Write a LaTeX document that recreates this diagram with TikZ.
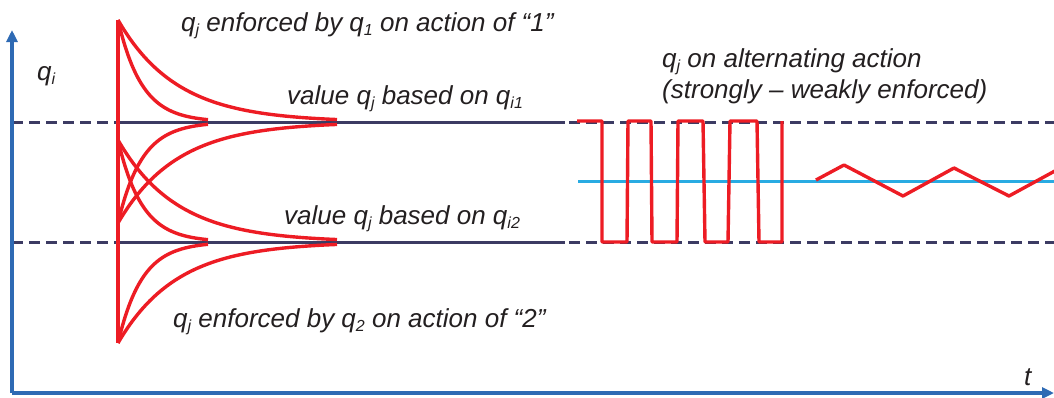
\documentclass[tikz,border=0pt]{standalone}
\usepackage{fontspec}
\setmainfont{Liberation Sans}
\usetikzlibrary{arrows.meta}
\definecolor{axisblue}{HTML}{2E6AB4}
\definecolor{curvered}{HTML}{ED1C24}
\definecolor{levelnavy}{HTML}{3C3B63}
\definecolor{meanblue}{HTML}{29ABE2}
\definecolor{txt}{HTML}{231F20}
\newcommand\lowsub[1]{\raisebox{-0.16em}{\fontsize{16}{16}\selectfont #1}}
\tikzset{
  axisline/.style={draw=axisblue, line width=3.6pt, -{Triangle[length=12pt,width=11pt]}},
  levelsolid/.style={draw=levelnavy, line width=3pt},
  leveldash/.style={draw=levelnavy, line width=3pt, dash pattern=on 11pt off 6pt},
  redline/.style={draw=curvered, line width=3.4pt, line join=round},
  meanline/.style={draw=meanblue, line width=3pt},
  lbl/.style={anchor=base west, inner sep=0pt, text=txt, font=\fontsize{26}{30}\selectfont\itshape}
}
\begin{document}
\begin{tikzpicture}[x=1pt,y=-1pt]
\useasboundingbox (0,0) rectangle (1054,397);
% levels
\draw[leveldash] (12,122) -- (118,122);
\draw[levelsolid] (118,122) -- (565,122);
\draw[leveldash] (569,122) -- (1054,122);
\draw[leveldash] (12,242) -- (118,242);
\draw[levelsolid] (118,242) -- (565,242);
\draw[leveldash] (569,242) -- (1054,242);
% mean line
\draw[meanline] (578,181) -- (1054,181);
% red vertical
\draw[redline] (118,20) -- (118,343);
% curves to upper level
\draw[redline] plot[domain=0:90, samples=60] ({118+\x},{122-102*exp(-0.042*\x)});
\draw[redline] plot[domain=0:219, samples=90] ({118+\x},{122-102*exp(-0.017*\x)});
\draw[redline] plot[domain=0:90, samples=60] ({118+\x},{122+101*exp(-0.042*\x)});
\draw[redline] plot[domain=0:219, samples=90] ({118+\x},{122+101*exp(-0.017*\x)});
% curves to lower level
\draw[redline] plot[domain=0:90, samples=60] ({118+\x},{242-102*exp(-0.042*\x)});
\draw[redline] plot[domain=0:219, samples=90] ({118+\x},{242-102*exp(-0.017*\x)});
\draw[redline] plot[domain=0:90, samples=60] ({118+\x},{242+101*exp(-0.042*\x)});
\draw[redline] plot[domain=0:219, samples=90] ({118+\x},{242+101*exp(-0.017*\x)});
% square wave
\draw[redline] (577,121) -- (602,121) -- (602,242) -- (627,242) -- (628,121) -- (651,121) -- (652,242) -- (677,242) -- (678,121) -- (703,121) -- (705,242) -- (728,242) -- (730,121) -- (757,121) -- (759,242) -- (782,242) -- (782,121);
% zigzag
\begin{scope}
\clip (560,100) rectangle (1054,260);
\draw[redline] (816,180) -- (844,165) -- (903,196) -- (954,168) -- (1009,196) -- (1064,166);
\end{scope}
% axes
\coordinate (origin) at (12,393);
\coordinate (ytip) at (12,30);
\coordinate (xtip) at (1054,393);
\draw[axisline] (origin) -- (ytip);
\draw[axisline] (origin) -- (xtip);
% labels
\node[lbl] (qi) at (37,80) {q\lowsub{i}};
\node[lbl] (tlab) at (1024,385) {t};
\node[lbl] (top) at (181,31) {q\lowsub{j} enforced by q\lowsub{1} on action of “1”};
\node[lbl] (v1) at (287,104) {value q\lowsub{j} based on q\lowsub{i1}};
\node[lbl] (v2) at (284,224) {value q\lowsub{j} based on q\lowsub{i2}};
\node[lbl] (bot) at (173,327) {q\lowsub{j} enforced by q\lowsub{2} on action of “2”};
\node[lbl] (alt1) at (662,67) {q\lowsub{j} on alternating action};
\node[lbl] (alt2) at (662,98) {(strongly – weakly enforced)};
\end{tikzpicture}
\end{document}
